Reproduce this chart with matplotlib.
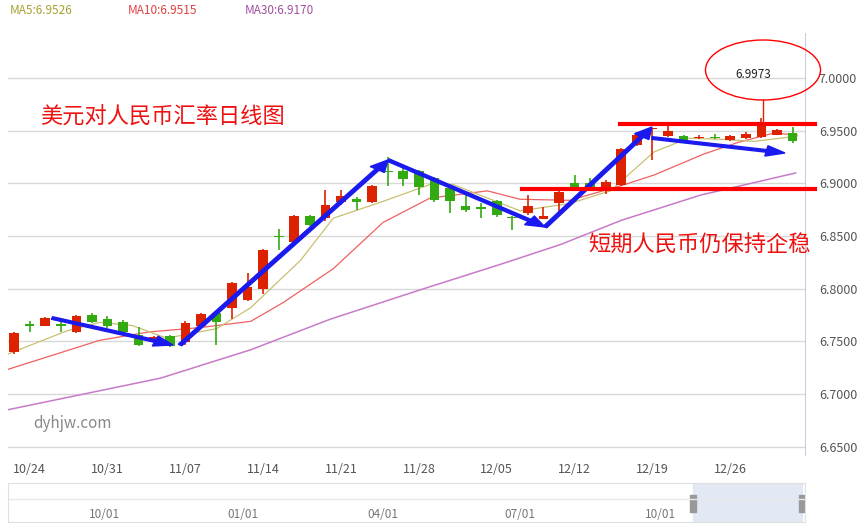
import matplotlib
matplotlib.use("Agg")
import matplotlib.pyplot as plt
from matplotlib.patches import Ellipse, FancyArrow, Rectangle

plt.rcParams['font.family'] = ['Noto Sans CJK SC', 'DejaVu Sans']

opens  = [6.740, 6.766, 6.765, 6.766, 6.759, 6.775, 6.771, 6.768, 6.756, 6.752,
          6.755, 6.749, 6.765, 6.777, 6.782, 6.789, 6.800, 6.850, 6.844, 6.869,
          6.867, 6.882, 6.885, 6.882, 6.912, 6.912, 6.912, 6.905, 6.896, 6.879,
          6.877, 6.883, 6.868, 6.872, 6.866, 6.881, 6.900, 6.900, 6.895, 6.899,
          6.937, 6.952, 6.945, 6.945, 6.943, 6.944, 6.941, 6.943, 6.944, 6.946, 6.948]
closes = [6.758, 6.765, 6.772, 6.765, 6.774, 6.768, 6.765, 6.759, 6.747, 6.754,
          6.746, 6.767, 6.776, 6.768, 6.805, 6.802, 6.837, 6.849, 6.869, 6.861,
          6.880, 6.888, 6.882, 6.898, 6.911, 6.904, 6.897, 6.884, 6.883, 6.875,
          6.876, 6.870, 6.867, 6.879, 6.869, 6.892, 6.897, 6.897, 6.901, 6.933,
          6.946, 6.953, 6.950, 6.941, 6.944, 6.943, 6.945, 6.947, 6.957, 6.951, 6.940]
highs  = [6.759, 6.769, 6.773, 6.771, 6.775, 6.777, 6.774, 6.770, 6.764, 6.755,
          6.756, 6.769, 6.777, 6.777, 6.806, 6.815, 6.838, 6.857, 6.870, 6.870,
          6.894, 6.894, 6.887, 6.899, 6.925, 6.915, 6.913, 6.906, 6.897, 6.889,
          6.881, 6.884, 6.869, 6.889, 6.878, 6.894, 6.908, 6.905, 6.903, 6.934,
          6.949, 6.953, 6.955, 6.946, 6.946, 6.947, 6.946, 6.949, 6.962, 6.952, 6.954]
lows   = [6.738, 6.759, 6.765, 6.759, 6.758, 6.767, 6.763, 6.758, 6.746, 6.751,
          6.745, 6.747, 6.764, 6.747, 6.771, 6.788, 6.795, 6.837, 6.843, 6.860,
          6.864, 6.880, 6.875, 6.881, 6.898, 6.898, 6.889, 6.882, 6.872, 6.873,
          6.867, 6.868, 6.856, 6.870, 6.866, 6.872, 6.895, 6.894, 6.890, 6.898,
          6.936, 6.922, 6.944, 6.940, 6.942, 6.942, 6.940, 6.942, 6.943, 6.946, 6.938]

ma5_x  = [-0.9, 3.4, 5.5, 7.6, 9.8, 13.0, 15.2, 18.4, 20.5, 23.7, 26.7, 28.2, 32.5, 35.7, 38.3, 41.1, 43.3, 45.4, 47.5, 50.3]
ma5_y  = [6.735, 6.760, 6.768, 6.765, 6.753, 6.762, 6.782, 6.827, 6.867, 6.883, 6.899, 6.899, 6.874, 6.881, 6.893, 6.930, 6.943, 6.942, 6.940, 6.945]
ma10_x = [-0.9, 5.5, 8.7, 11.9, 15.2, 17.3, 20.5, 23.7, 26.7, 30.4, 32.5, 35.7, 39.0, 41.1, 44.3, 46.5, 48.8, 50.3]
ma10_y = [6.721, 6.751, 6.759, 6.763, 6.769, 6.787, 6.819, 6.863, 6.886, 6.893, 6.885, 6.884, 6.898, 6.908, 6.928, 6.939, 6.948, 6.946]
ma30_x = [-0.4, 9.4, 15.2, 20.3, 26.1, 31.2, 35.1, 39.0, 44.1, 50.2]
ma30_y = [6.685, 6.715, 6.742, 6.771, 6.799, 6.823, 6.842, 6.865, 6.889, 6.910]

tick_idx = [1, 6, 11, 16, 21, 26, 31, 36, 41, 46]
tick_labels = ["10/24", "10/31", "11/07", "11/14", "11/21", "11/28", "12/05", "12/12", "12/19", "12/26"]
y_ticks = [6.65, 6.70, 6.75, 6.80, 6.85, 6.90, 6.95, 7.00]
nav_labels = ["10/01", "01/01", "04/01", "07/01", "10/01"]
nav_x = [105, 243, 383, 520, 660]

W, H = 860, 525
fig = plt.figure(figsize=(W / 100, H / 100), dpi=100)

def fx(x): return x / W
def fy(y): return 1 - y / H

ax = fig.add_axes([fx(8), fy(455), fx(805) - fx(8), fy(33) - fy(455)])
ax.set_xlim(-0.39, 50.8)
ax.set_ylim(6.642, 7.043)
for v in y_ticks:
    ax.axhline(v, color="#d8d8d8", lw=1, zorder=0)
for s in ["top", "bottom", "left"]:
    ax.spines[s].set_visible(False)
ax.spines["right"].set_color("#c8d0e0")
ax.yaxis.tick_right()
ax.set_yticks(y_ticks)
ax.set_yticklabels([f"{v:.4f}" for v in y_ticks], color="#555", fontsize=9)
ax.tick_params(axis="y", length=0, pad=10)
ax.set_xticks(tick_idx)
ax.set_xticklabels(tick_labels, color="#555", fontsize=9)
ax.tick_params(axis="x", length=0, pad=6)

ax.plot(ma30_x, ma30_y, color="#c77bc9", lw=1.1, zorder=1)
ax.plot(ma10_x, ma10_y, color="#f06060", lw=0.9, zorder=1)
ax.plot(ma5_x, ma5_y, color="#c8c070", lw=0.9, zorder=1)

for i, (o, c, h, l) in enumerate(zip(opens, closes, highs, lows)):
    col = "#dd2200" if c >= o else "#33aa11"
    ax.vlines(i, l, h, color=col, lw=1.2, zorder=2)
    bot, top = min(o, c), max(o, c)
    ax.bar(i, max(top - bot, 0.0012), bottom=bot, width=0.62, color=col, zorder=3)

# top legend
fig.text(fx(10), fy(10), "MA5:6.9526", color="#a8a030", fontsize=8.5, va="center")
fig.text(fx(128), fy(10), "MA10:6.9515", color="#e04040", fontsize=8.5, va="center")
fig.text(fx(245), fy(10), "MA30:6.9170", color="#a050a0", fontsize=8.5, va="center")

# annotations
fig.text(fx(40), fy(117), "美元对人民币汇率日线图", color="#ee1111", fontsize=16, va="center")
fig.text(fx(588), fy(245), "短期人民币仍保持企稳", color="#ee1111", fontsize=16, va="center")
fig.text(fx(33), fy(423), "dyhjw.com", color="#888", fontsize=11, va="center")

fig.add_artist(plt.Line2D([fx(620), fx(815)], [fy(124), fy(124)], color="red", lw=3))
fig.add_artist(plt.Line2D([fx(522), fx(815)], [fy(189), fy(189)], color="red", lw=3))
fig.add_artist(plt.Line2D([fx(763), fx(763)], [fy(100), fy(127)], color="#dd2200", lw=1))
fig.add_artist(Ellipse((fx(763), fy(70)), fx(115), 60 / H, fill=False, ec="red", lw=1))
fig.text(fx(753), fy(75), "6.9973", color="#222", fontsize=8.5, ha="center", va="center")

arrows = [((52, 318), (173, 345)), ((180, 345), (388, 160)), ((388, 160), (545, 227)),
          ((545, 227), (652, 127)), ((652, 138), (785, 153))]
for (x0, y0), (x1, y1) in arrows:
    fig.add_artist(FancyArrow(fx(x0), fy(y0), fx(x1) - fx(x0), fy(y1) - fy(y0),
                              width=0.005, head_width=0.02, head_length=0.022,
                              length_includes_head=True, color="#1a1aee", transform=fig.transFigure))

# navigator
nav = fig.add_axes([fx(8), fy(522), fx(805) - fx(8), fy(483) - fy(522)])
nav.set_xlim(0, 797); nav.set_ylim(0, 1)
nav.set_xticks([]); nav.set_yticks([])
for s in nav.spines.values():
    s.set_color("#e0e0e0")
nav.axhline(0.6, color="#e8e8e8", lw=1)
nav.add_patch(Rectangle((685, 0), 109, 1, color="#dfe7f3", alpha=0.9))
for hx in (685, 794):
    nav.add_patch(Rectangle((hx - 3, 0.25), 6, 0.45, color="#999"))
for lx, lb in zip(nav_x, nav_labels):
    fig.text(fx(lx), fy(515), lb, color="#777", fontsize=8.5, ha="center", va="center")

fig.savefig("out.png", dpi=100, facecolor="white")
